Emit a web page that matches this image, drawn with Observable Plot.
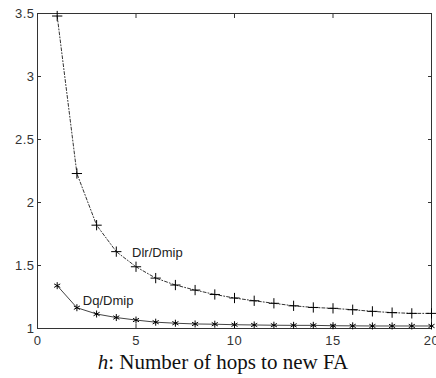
<!DOCTYPE html>
<html>
<head>
<meta charset="utf-8">
<script src="https://cdn.jsdelivr.net/npm/d3@7"></script>
<script src="https://cdn.jsdelivr.net/npm/@observablehq/plot@0.6"></script>
<style>
  html, body { margin: 0; padding: 0; background: #fff; }
  #chart { width: 436px; height: 350px; }
  #caption { width: 436px; text-align: center; font-family: "Liberation Serif", "Times New Roman", serif; font-size: 21px; line-height: 24px; color: #111; padding-left: 10px; box-sizing: border-box; }
  svg text.lbl { letter-spacing: 1.2px; }
  svg g[aria-label$="axis tick label"] text { letter-spacing: 0.5px; }
</style>
</head>
<body>
<div id="chart"></div>
<div id="caption"><i>h</i>: Number of hops to new FA</div>
<script>
const hops = [1,2,3,4,5,6,7,8,9,10,11,12,13,14,15,16,17,18,19,20];
const dlr = [3.48,2.23,1.82,1.61,1.49,1.40,1.345,1.305,1.27,1.242,1.22,1.20,1.18,1.167,1.16,1.149,1.136,1.126,1.12,1.12];
const dq  = [1.34,1.165,1.115,1.087,1.067,1.05,1.042,1.036,1.034,1.03,1.028,1.026,1.025,1.025,1.022,1.021,1.02,1.02,1.02,1.02];
const xTicks = [0,5,10,15,20];
const yTicks = [1,1.5,2,2.5,3,3.5];
const labelText = ["Dlr/Dmip","Dq/Dmip"];
const labelX = [4.8,2.3];
const labelY = [1.6,1.22];

const rows = (vals, name) => hops.map((h,i) => ({h, v: vals[i], s: name}));
const dlrRows = rows(dlr, "Dlr");
const dqRows = rows(dq, "Dq");
const labels = labelText.map((t,i) => ({t, x: labelX[i], y: labelY[i]}));

const chart = Plot.plot({
  width: 436,
  height: 350,
  marginLeft: 37,
  marginRight: 5,
  marginTop: 13,
  marginBottom: 22,
  style: {fontFamily: "'Liberation Sans', Arial, sans-serif", fontSize: "13px", color: "#333", background: "#fff", overflow: "hidden"},
  x: {domain: [0,20]},
  y: {domain: [1,3.5]},
  marks: [
    Plot.axisX({ticks: xTicks, anchor: "bottom", tickSize: -4, tickPadding: 11, tickFormat: d => d, fontSize: 13, label: null, stroke: "#333"}),
    Plot.axisX({ticks: xTicks, anchor: "top", tickSize: -4, tickFormat: () => "", label: null, stroke: "#333"}),
    Plot.axisY({ticks: yTicks, anchor: "left", tickSize: -4, tickPadding: 7, tickFormat: d => d, fontSize: 13, label: null, stroke: "#333"}),
    Plot.axisY({ticks: yTicks, anchor: "right", tickSize: -4, tickFormat: () => "", label: null, stroke: "#333"}),
    Plot.frame({stroke: "#333", strokeWidth: 1}),
    Plot.line(dqRows, {x: "h", y: "v", stroke: "#444", strokeWidth: 1}),
    Plot.line(dlrRows, {x: "h", y: "v", stroke: "#333", strokeWidth: 1, strokeDasharray: "3,2,1,2"}),
    Plot.dot(dqRows, {x: "h", y: "v", symbol: "asterisk", r: 3.3, stroke: "#000", strokeWidth: 1}),
    Plot.dot(dlrRows, {x: "h", y: "v", symbol: "plus", r: 3.4, stroke: "#000", strokeWidth: 1}),
    Plot.text(labels, {x: "x", y: "y", text: "t", textAnchor: "start", lineAnchor: "middle", fontSize: 13, fill: "#222", className: "lbl"})
  ]
});
document.getElementById("chart").appendChild(chart);
</script>
</body>
</html>
